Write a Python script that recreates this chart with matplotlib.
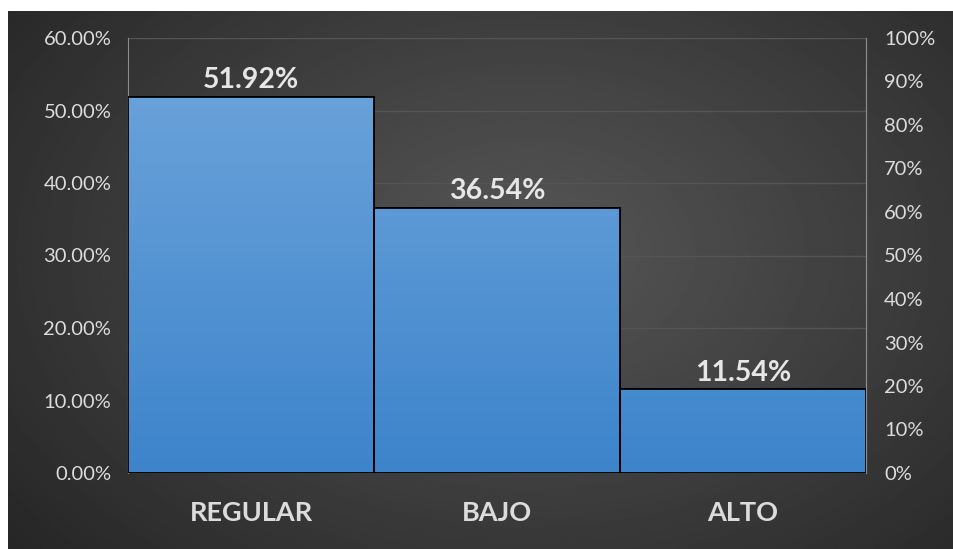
import matplotlib.pyplot as plt
import numpy as np
from matplotlib.ticker import MultipleLocator, FuncFormatter
from matplotlib.colors import LinearSegmentedColormap

categorias = ["REGULAR", "BAJO", "ALTO"]
porcentajes = [51.92, 36.54, 11.54]

plt.rcParams["font.family"] = ["Lato", "DejaVu Sans"]

fig = plt.figure(figsize=(9.54, 5.49), dpi=100)
fig.patch.set_facecolor("white")

# fondo oscuro con degradado radial
bg = fig.add_axes([8 / 954, 0, 946 / 954, 538 / 549])
bg.set_axis_off()
yy, xx = np.mgrid[0:1:300j, 0:1:500j]
r = np.sqrt(((xx - 0.55) / 0.75) ** 2 + ((yy - 0.45) / 0.9) ** 2)
bg.imshow(0.34 - 0.2 * np.clip(r, 0, 1), cmap="gray", vmin=0, vmax=1,
          aspect="auto", extent=[0, 1, 0, 1], interpolation="bilinear")

ax = fig.add_axes([128 / 954, 1 - 473 / 549, 738 / 954, 435 / 549])
ax.set_facecolor("none")
x = np.arange(len(categorias))
barras = ax.bar(x, porcentajes, width=1.0, color="#5296d8",
                edgecolor="black", linewidth=1.3, zorder=3)

# degradado vertical dentro de cada barra
grad = np.linspace(0, 1, 256).reshape(-1, 1)
cmap_barra = LinearSegmentedColormap.from_list("barra", ["#3d84cb", "#70a6dc"])
for b in barras:
    x0, w, h = b.get_x(), b.get_width(), b.get_height()
    im = ax.imshow(grad, cmap=cmap_barra, aspect="auto", origin="lower",
                   extent=[x0, x0 + w, 0, 60], zorder=3.5)
    im.set_clip_path(b)
    ax.bar(b.get_x() + w / 2, h, width=w, color="none",
           edgecolor="black", linewidth=1.3, zorder=4)

for xi, v in zip(x, porcentajes):
    ax.text(xi, v + 0.5, f"{v:.2f}%", ha="center", va="bottom",
            fontsize=20.5, fontweight="bold", color="#e6e6e6", zorder=5)

ax.set_xlim(-0.5, 2.5)
ax.set_ylim(0, 60)
ax.yaxis.set_major_locator(MultipleLocator(10))
ax.yaxis.set_major_formatter(FuncFormatter(lambda v, p: f"{v:.2f}%"))
ax.set_xticks(x)
ax.set_xticklabels(categorias, fontsize=19.5, fontweight="bold", color="#dcdcdc")
ax.tick_params(axis="x", length=0, pad=20)
ax.tick_params(axis="y", length=0, pad=12, labelsize=14.5, labelcolor="#dcdcdc")
ax.grid(axis="y", color="#555555", linewidth=1, zorder=0)
for s in ["top", "bottom"]:
    ax.spines[s].set_visible(False)
ax.spines["left"].set_color("#8c8c8c")
ax.spines["right"].set_color("#8c8c8c")

ax2 = ax.twinx()
ax2.set_ylim(0, 1)
ax2.yaxis.set_major_locator(MultipleLocator(0.1))
ax2.yaxis.set_major_formatter(FuncFormatter(lambda v, p: f"{v * 100:.0f}%"))
ax2.tick_params(axis="y", length=0, pad=13, labelsize=14.5, labelcolor="#dcdcdc")
for s in ["top", "bottom", "left"]:
    ax2.spines[s].set_visible(False)
ax2.spines["right"].set_color("#8c8c8c")

fig.savefig("out.png", dpi=100)
